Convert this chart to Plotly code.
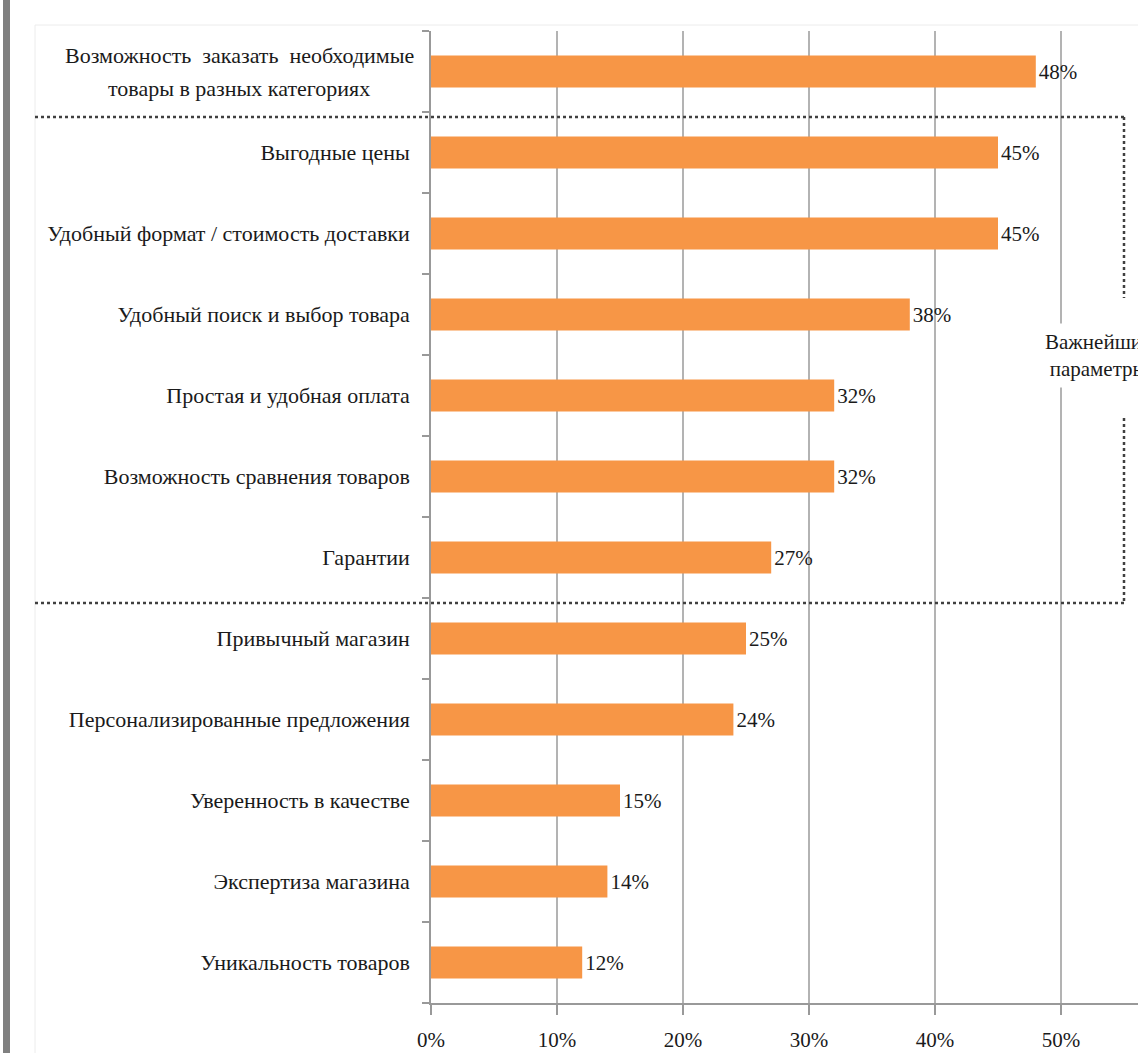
import plotly.graph_objects as go

# ---- data ----
categories = [
    "Возможность заказать необходимые товары в разных категориях",
    "Выгодные цены",
    "Удобный формат / стоимость доставки",
    "Удобный поиск и выбор товара",
    "Простая и удобная оплата",
    "Возможность сравнения товаров",
    "Гарантии",
    "Привычный магазин",
    "Персонализированные предложения",
    "Уверенность в качестве",
    "Экспертиза магазина",
    "Уникальность товаров",
]
values = [48, 45, 45, 38, 32, 32, 27, 25, 24, 15, 14, 12]
first_label_lines = ["Возможность  заказать  необходимые", "товары в разных категориях"]
tick_labels = [""] + categories[1:]
x_ticks = [0, 10, 20, 30, 40, 50]
group_label = "Важнейшие<br>параметры"

# ---- geometry helpers (pixel -> paper) ----
W, H = 1138, 1053
L, R, T, B = 431, 0, 31, 50
PW, PH = W - L - R, H - T - B


def px(x):
    return (x - L) / PW


def py(y):
    return (H - B - y) / PH


SERIF = "Liberation Serif"
TXT = "#1a1a1a"

fig = go.Figure()
fig.add_trace(go.Bar(
    x=values, y=categories, orientation="h",
    marker=dict(color="#F79646", line=dict(width=0)),
    text=[f"{v}%" for v in values], textposition="outside",
    textfont=dict(family=SERIF, size=21, color=TXT),
    cliponaxis=False, hoverinfo="skip",
))

shapes = []
# left dark grey strip
shapes.append(dict(type="rect", xref="paper", yref="paper", x0=px(3), x1=px(10), y0=py(H), y1=py(0),
                   fillcolor="#808080", line=dict(width=0), layer="above"))
# faint chart area border
shapes.append(dict(type="line", xref="paper", yref="paper", x0=px(35), x1=px(35), y0=py(H), y1=py(25),
                   line=dict(color="#ececec", width=1)))
shapes.append(dict(type="line", xref="paper", yref="paper", x0=px(35), x1=px(W), y0=py(25), y1=py(25),
                   line=dict(color="#ececec", width=1)))
# dotted group frame
dot = dict(color="#404040", width=2.5, dash="dot")
shapes.append(dict(type="line", xref="paper", yref="paper", x0=px(35), x1=px(1124), y0=py(117), y1=py(117), line=dot, layer="above"))
shapes.append(dict(type="line", xref="paper", yref="paper", x0=px(35), x1=px(1124), y0=py(603), y1=py(603), line=dot, layer="above"))
shapes.append(dict(type="line", xref="paper", yref="paper", x0=px(1124), x1=px(1124), y0=py(117), y1=py(298), line=dot, layer="above"))
shapes.append(dict(type="line", xref="paper", yref="paper", x0=px(1124), x1=px(1124), y0=py(418), y1=py(603), line=dot, layer="above"))

annotations = []
# first category label (two centered lines)
for i, (line, shift) in enumerate(zip(first_label_lines, [16, -17])):
    annotations.append(dict(
        xref="paper", yref="y", x=px(239), y=categories[0], xanchor="center", yanchor="middle",
        yshift=shift, text=line, showarrow=False,
        font=dict(family=SERIF, size=22, color=TXT)))
# group label
annotations.append(dict(
    xref="paper", yref="paper", x=px(1098), y=py(355), xanchor="center", yanchor="middle",
    text=group_label, showarrow=False, align="center", bgcolor="white", borderpad=6,
    font=dict(family=SERIF, size=21, color=TXT)))

fig.update_layout(
    width=W, height=H,
    margin=dict(l=L, r=R, t=T, b=B, pad=0),
    paper_bgcolor="white", plot_bgcolor="white",
    bargap=0.605, showlegend=False,
    shapes=shapes, annotations=annotations,
    xaxis=dict(
        range=[0, (W - L) / 12.6], tickvals=x_ticks, ticktext=[f"{t}%" for t in x_ticks],
        showgrid=True, gridcolor="#b3b3b3", gridwidth=1.5, zeroline=False,
        showline=True, linecolor="#999999", linewidth=1.5,
        ticks="outside", ticklen=10, tickcolor="#999999", tickwidth=1.5,
        ticklabelstandoff=7,
        tickfont=dict(family=SERIF, size=21, color=TXT), fixedrange=True,
    ),
    yaxis=dict(
        type="category", autorange="reversed",
        tickmode="array", tickvals=categories, ticktext=tick_labels,
        tickson="boundaries", ticks="outside", ticklen=7, tickcolor="#999999", tickwidth=1.5,
        showline=True, linecolor="#999999", linewidth=1.5, showgrid=False,
        ticklabelstandoff=15,
        tickfont=dict(family=SERIF, size=22, color=TXT), fixedrange=True,
    ),
)

fig.write_html("out.html")
